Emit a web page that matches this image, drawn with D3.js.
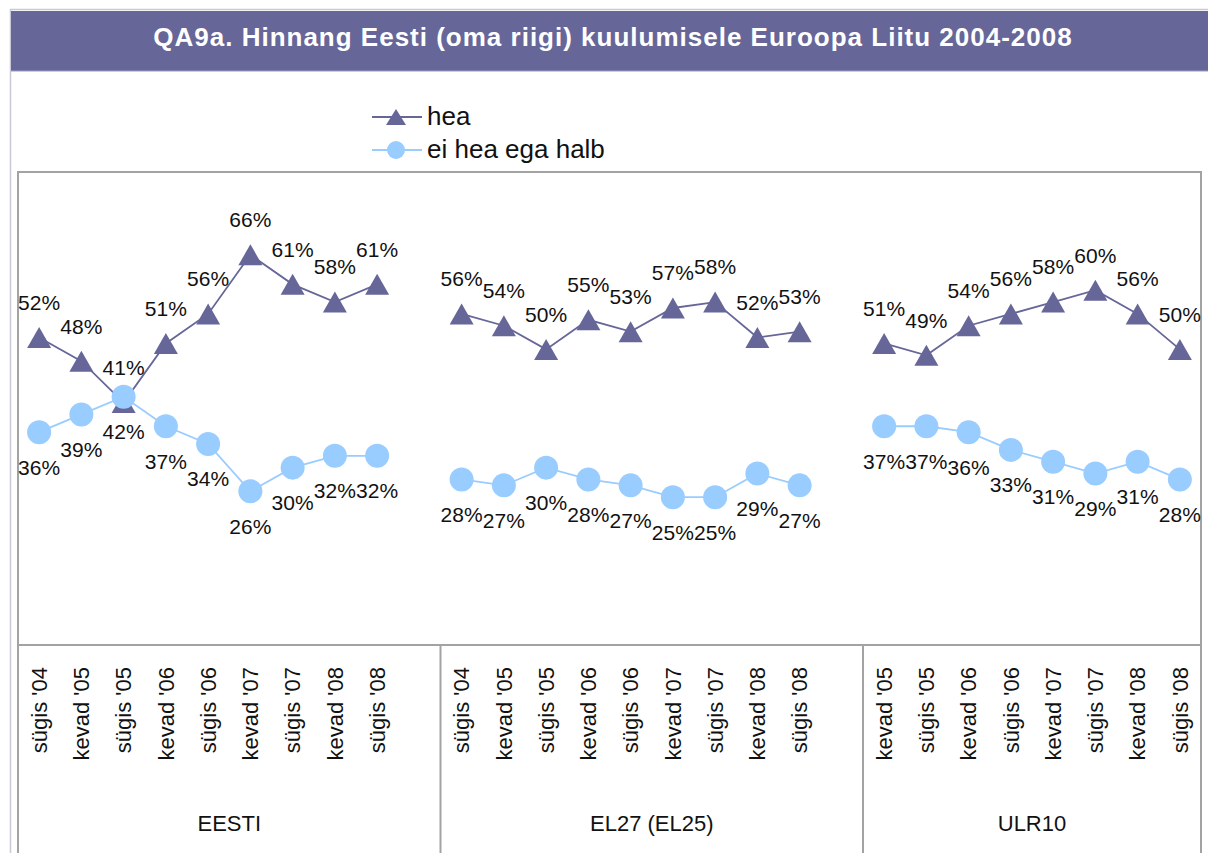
<!DOCTYPE html>
<html>
<head>
<meta charset="utf-8">
<script src="https://cdn.jsdelivr.net/npm/d3@7"></script>
<style>
  html, body { margin: 0; padding: 0; background: #fff; }
  svg { display: block; }
  text { font-family: Arial, "Liberation Sans", sans-serif; }
</style>
</head>
<body>
<svg id="chart" width="1208" height="853"></svg>
<script>
// Survey groups and their fieldwork waves
const groups = ["EESTI", "EL27 (EL25)", "ULR10"];
const wavesEesti = ["sügis '04", "kevad '05", "sügis '05", "kevad '06", "sügis '06", "kevad '07", "sügis '07", "kevad '08", "sügis '08"];
const wavesEl27  = ["sügis '04", "kevad '05", "sügis '05", "kevad '06", "sügis '06", "kevad '07", "sügis '07", "kevad '08", "sügis '08"];
const wavesUlr10 = ["kevad '05", "sügis '05", "kevad '06", "sügis '06", "kevad '07", "sügis '07", "kevad '08", "sügis '08"];

// Share answering "hea" (%)
const heaEesti = [52, 48, 41, 51, 56, 66, 61, 58, 61];
const heaEl27  = [56, 54, 50, 55, 53, 57, 58, 52, 53];
const heaUlr10 = [51, 49, 54, 56, 58, 60, 56, 50];

// Share answering "ei hea ega halb" (%)
const neutralEesti = [36, 39, 42, 37, 34, 26, 30, 32, 32];
const neutralEl27  = [28, 27, 30, 28, 27, 25, 25, 29, 27];
const neutralUlr10 = [37, 37, 36, 33, 31, 29, 31, 28];

const seriesNames = ["hea", "ei hea ega halb"];
const titleText = "QA9a. Hinnang Eesti (oma riigi) kuulumisele Euroopa Liitu 2004-2008";

const waves = [wavesEesti, wavesEl27, wavesUlr10];
const hea = [heaEesti, heaEl27, heaUlr10];
const neutral = [neutralEesti, neutralEl27, neutralUlr10];

const colHea = "#666699";
const colNeutral = "#99ccff";
const frameCol = "#a3a3a3";

const svg = d3.select("#chart");

// ---- outer chart border and title bar ----
svg.append("line").attr("x1", 10).attr("x2", 1208).attr("y1", 9.5).attr("y2", 9.5)
  .attr("stroke", "#c9c9d6").attr("stroke-width", 1.5);
svg.append("line").attr("x1", 10.5).attr("x2", 10.5).attr("y1", 9).attr("y2", 853)
  .attr("stroke", "#c9c9d6").attr("stroke-width", 1.5);
svg.append("rect").attr("x", 11).attr("y", 11).attr("width", 1197).attr("height", 60)
  .attr("fill", colHea);
svg.append("line").attr("x1", 11).attr("x2", 1208).attr("y1", 71).attr("y2", 71)
  .attr("stroke", "#9c9cc0").attr("stroke-width", 1);
svg.append("text").attr("x", 613).attr("y", 46).attr("text-anchor", "middle")
  .attr("fill", "#ffffff").attr("font-weight", "bold").attr("font-size", 26)
  .attr("letter-spacing", 1.0)
  .text(titleText);

// ---- category slots: each group followed by an empty spacer slot ----
const slots = [];
const groupInfo = [];
groups.forEach((g, gi) => {
  const keys = waves[gi].map((w, i) => `${gi}|${i}`);
  keys.forEach((k, i) => slots.push({ key: k, label: waves[gi][i] }));
  let spacer = null;
  if (gi < groups.length - 1) {
    spacer = `${gi}|gap`;
    slots.push({ key: spacer, label: "" });
  }
  groupInfo.push({ name: g, first: keys[0], spacer });
});

const plotLeft = 18, plotRight = 1201, plotTop = 172, axisY = 645;

const x = d3.scaleBand()
  .domain(slots.map(s => s.key))
  .range([plotLeft, plotRight])
  .padding(0);
const cx = k => x(k) + x.bandwidth() / 2;

const y = d3.scaleLinear().domain([0, 80]).range([axisY, plotTop]);

// ---- plot frame, axis line and group dividers ----
svg.append("rect").attr("x", plotLeft).attr("y", plotTop)
  .attr("width", plotRight - plotLeft).attr("height", 900)
  .attr("fill", "none").attr("stroke", frameCol).attr("stroke-width", 2);
svg.append("line").attr("x1", plotLeft).attr("x2", plotRight)
  .attr("y1", axisY).attr("y2", axisY)
  .attr("stroke", frameCol).attr("stroke-width", 2);
groupInfo.forEach(gInfo => {
  if (!gInfo.spacer) return;
  const xd = x(gInfo.spacer) + x.bandwidth();
  svg.append("line").attr("x1", xd).attr("x2", xd).attr("y1", axisY).attr("y2", 853)
    .attr("stroke", frameCol).attr("stroke-width", 2);
});

// ---- category axis (rotated wave labels) ----
const labelOf = new Map(slots.map(s => [s.key, s.label]));
const axis = d3.axisBottom(x)
  .tickValues(slots.filter(s => s.label).map(s => s.key))
  .tickSize(0)
  .tickFormat(k => labelOf.get(k));
const axisG = svg.append("g").attr("transform", `translate(0,${axisY})`).call(axis);
axisG.select(".domain").remove();
axisG.selectAll("text")
  .attr("font-family", "Arial, 'Liberation Sans', sans-serif")
  .attr("font-size", 22)
  .attr("fill", "#111")
  .attr("text-anchor", "end")
  .attr("transform", "rotate(-90)")
  .attr("x", -22)
  .attr("y", 0)
  .attr("dy", "0.35em");

// group names
groupInfo.forEach((gInfo, gi) => {
  const x0 = x(gInfo.first);
  const x1 = gInfo.spacer ? x(gInfo.spacer) + x.bandwidth() : plotRight;
  svg.append("text").attr("x", (x0 + x1) / 2).attr("y", 831)
    .attr("text-anchor", "middle").attr("font-size", 22).attr("fill", "#111")
    .text(gInfo.name);
});

// ---- series ----
const line = d3.line().x(d => d.x).y(d => d.y);
const triPath = (px, py, w, h) => {
  const p = d3.path();
  p.moveTo(px, py - h / 2);
  p.lineTo(px + w / 2, py + h / 2);
  p.lineTo(px - w / 2, py + h / 2);
  p.closePath();
  return p.toString();
};

groups.forEach((g, gi) => {
  const heaPts = hea[gi].map((v, i) => ({ x: cx(`${gi}|${i}`), y: y(v), v }));
  const neuPts = neutral[gi].map((v, i) => ({ x: cx(`${gi}|${i}`), y: y(v), v }));

  svg.append("path").attr("d", line(heaPts)).attr("fill", "none")
    .attr("stroke", colHea).attr("stroke-width", 1.8);
  svg.append("path").attr("d", line(neuPts)).attr("fill", "none")
    .attr("stroke", colNeutral).attr("stroke-width", 1.8);

  svg.append("g").selectAll("path").data(heaPts).join("path")
    .attr("d", d => triPath(d.x, d.y, 24, 21))
    .attr("fill", colHea);
  svg.append("g").selectAll("circle").data(neuPts).join("circle")
    .attr("cx", d => d.x).attr("cy", d => d.y).attr("r", 12)
    .attr("fill", colNeutral);

  svg.append("g").selectAll("text").data(heaPts).join("text")
    .attr("x", d => d.x).attr("y", d => d.y - 35).attr("dy", "0.35em")
    .attr("text-anchor", "middle").attr("font-size", 21).attr("fill", "#111")
    .text(d => d.v + "%");
  svg.append("g").selectAll("text").data(neuPts).join("text")
    .attr("x", d => d.x).attr("y", d => d.y + 35).attr("dy", "0.35em")
    .attr("text-anchor", "middle").attr("font-size", 21).attr("fill", "#111")
    .text(d => d.v + "%");
});

// ---- legend ----
const legend = svg.append("g");
const legendRows = [
  { name: seriesNames[0], color: colHea, type: "tri", y: 117 },
  { name: seriesNames[1], color: colNeutral, type: "circle", y: 150 }
];
legendRows.forEach(r => {
  legend.append("line").attr("x1", 372).attr("x2", 422).attr("y1", r.y).attr("y2", r.y)
    .attr("stroke", r.color).attr("stroke-width", 2);
  if (r.type === "tri") {
    legend.append("path").attr("d", triPath(396, r.y, 20, 16)).attr("fill", r.color);
  } else {
    legend.append("circle").attr("cx", 396).attr("cy", r.y).attr("r", 9).attr("fill", r.color);
  }
  legend.append("text").attr("x", 427).attr("y", r.y + 8).attr("font-size", 26)
    .attr("fill", "#111").text(r.name);
});
</script>
</body>
</html>
